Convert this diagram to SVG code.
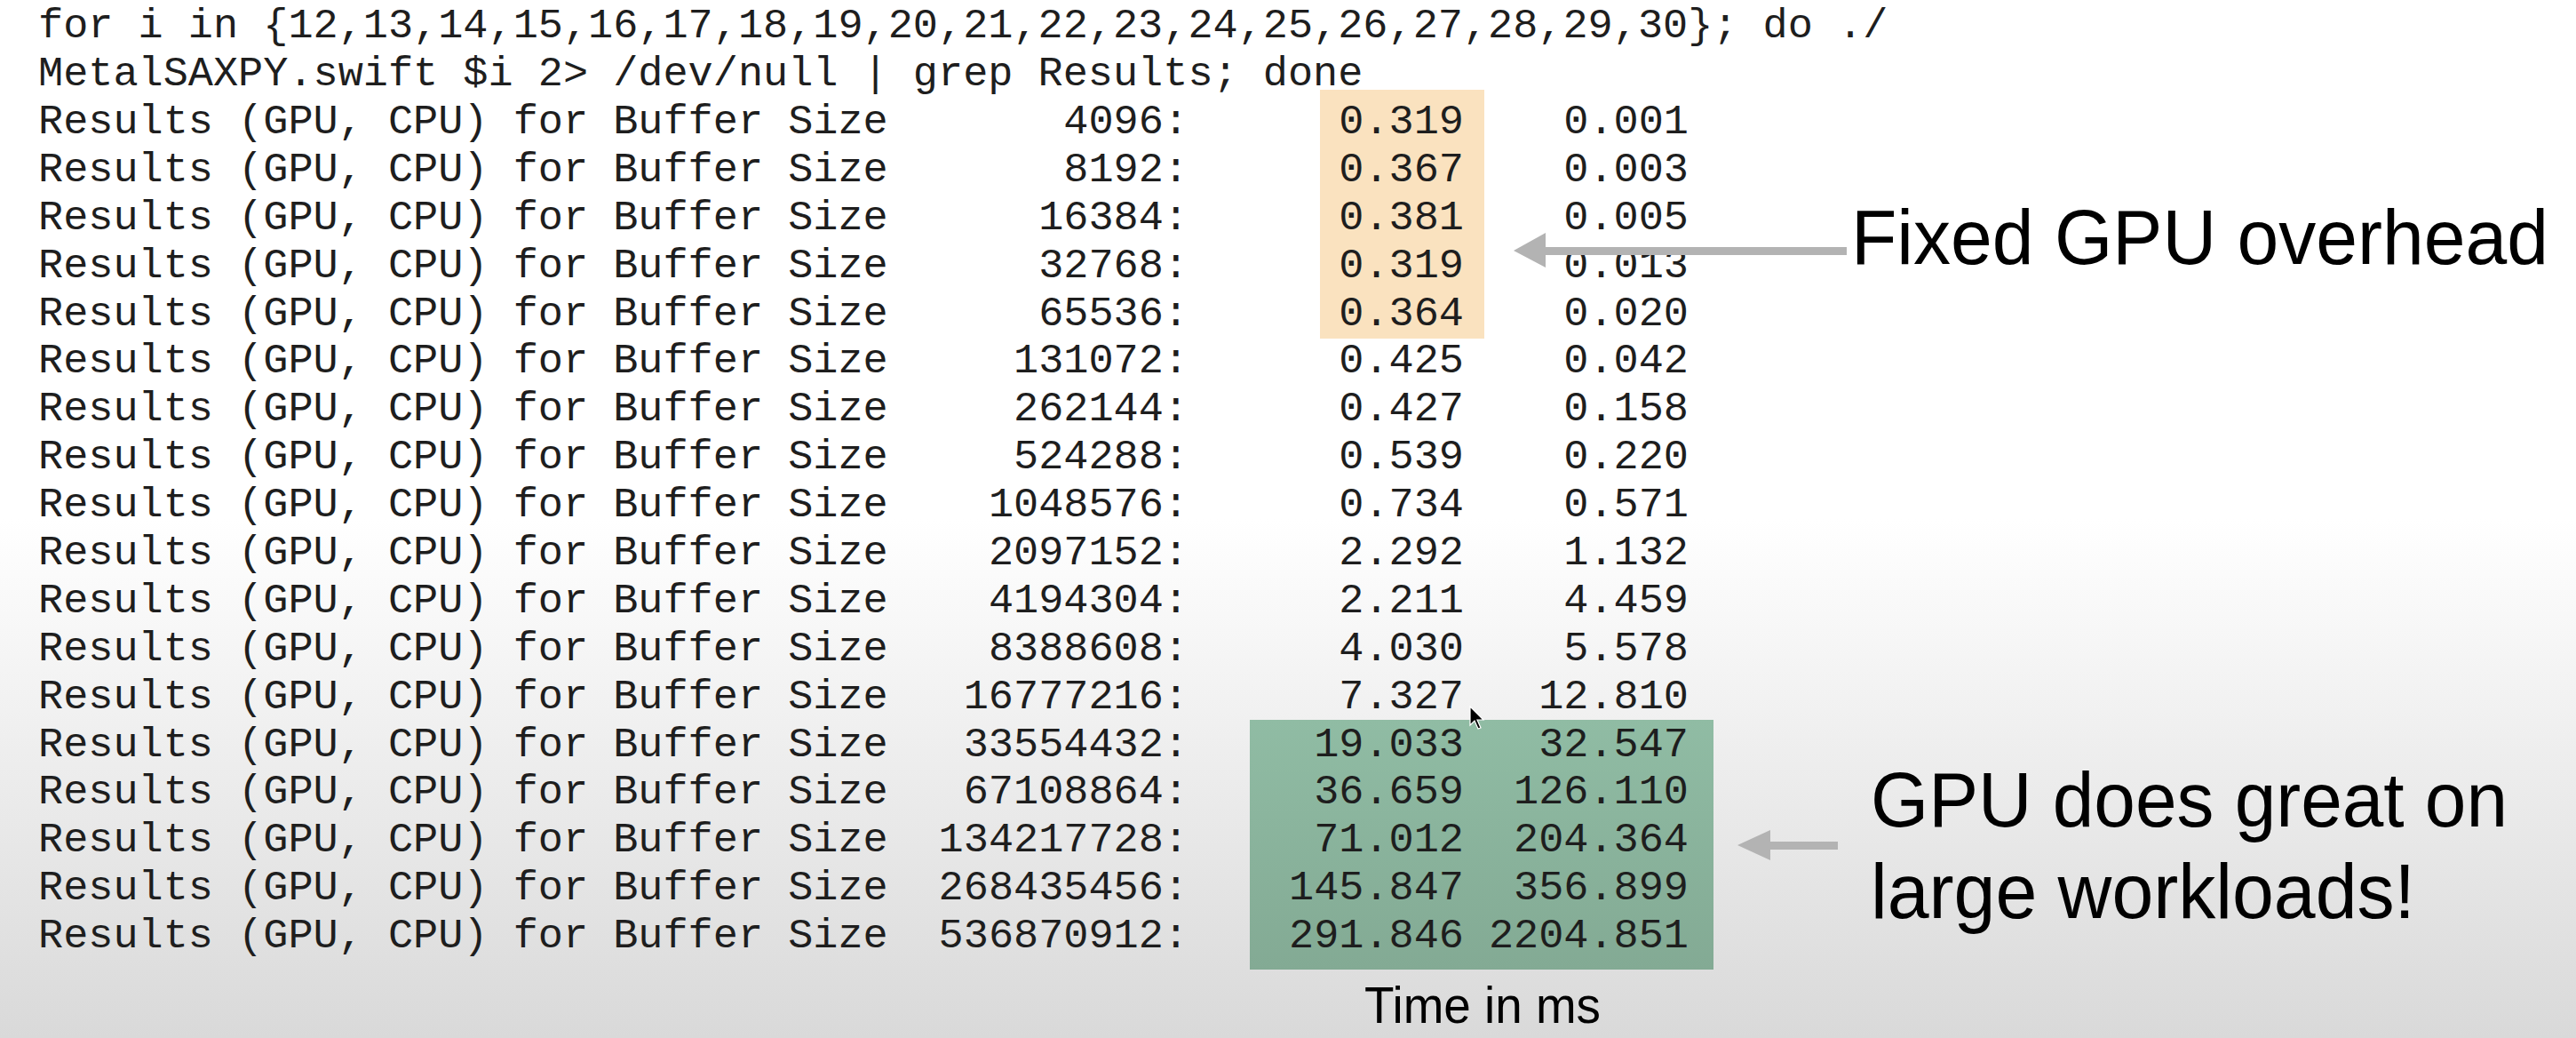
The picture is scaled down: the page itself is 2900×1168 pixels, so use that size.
<svg xmlns="http://www.w3.org/2000/svg" width="2900" height="1168" viewBox="0 0 2900 1168">
<defs>
<linearGradient id="bg" x1="0" y1="0" x2="0" y2="1">
<stop offset="0" stop-color="#ffffff"/>
<stop offset="0.5" stop-color="#ffffff"/>
<stop offset="1" stop-color="#d9d9d9"/>
</linearGradient>
<linearGradient id="green" x1="0" y1="0" x2="0" y2="1">
<stop offset="0" stop-color="#90bca4"/>
<stop offset="1" stop-color="#83aa94"/>
</linearGradient>
<style>
.mono{font-family:"Liberation Mono","DejaVu Sans Mono",monospace;font-size:46.9px;fill:#1e1e1e}
.num{text-anchor:end}
.big{font-family:"Liberation Sans",Arial,sans-serif;font-size:88px;fill:#000}
.cap{font-family:"Liberation Sans",Arial,sans-serif;font-size:57px;fill:#000}
.arrow{fill:#b3b3b3}
</style>
</defs>
<rect x="0" y="0" width="2900" height="1168" fill="url(#bg)"/>

<g id="highlight-fixed">
<rect x="1486" y="101" width="185" height="280" fill="#fae2bf"/>
</g>
<g id="highlight-large">
<rect x="1407" y="810" width="522" height="281" fill="url(#green)"/>
</g>

<g id="command" class="mono" xml:space="preserve">
<text x="43" y="42">for i in {12,13,14,15,16,17,18,19,20,21,22,23,24,25,26,27,28,29,30}; do ./</text>
<text x="43" y="96">MetalSAXPY.swift $i 2&gt; /dev/null | grep Results; done</text>
</g>

<g id="results" class="mono">
<text x="43" y="150">Results (GPU, CPU) for Buffer Size</text><text class="num" x="1338" y="150">4096:</text><text class="num" x="1648" y="150">0.319</text><text class="num" x="1901" y="150">0.001</text>
<text x="43" y="204">Results (GPU, CPU) for Buffer Size</text><text class="num" x="1338" y="204">8192:</text><text class="num" x="1648" y="204">0.367</text><text class="num" x="1901" y="204">0.003</text>
<text x="43" y="258">Results (GPU, CPU) for Buffer Size</text><text class="num" x="1338" y="258">16384:</text><text class="num" x="1648" y="258">0.381</text><text class="num" x="1901" y="258">0.005</text>
<text x="43" y="312">Results (GPU, CPU) for Buffer Size</text><text class="num" x="1338" y="312">32768:</text><text class="num" x="1648" y="312">0.319</text><text class="num" x="1901" y="312">0.013</text>
<text x="43" y="366">Results (GPU, CPU) for Buffer Size</text><text class="num" x="1338" y="366">65536:</text><text class="num" x="1648" y="366">0.364</text><text class="num" x="1901" y="366">0.020</text>
<text x="43" y="419">Results (GPU, CPU) for Buffer Size</text><text class="num" x="1338" y="419">131072:</text><text class="num" x="1648" y="419">0.425</text><text class="num" x="1901" y="419">0.042</text>
<text x="43" y="473">Results (GPU, CPU) for Buffer Size</text><text class="num" x="1338" y="473">262144:</text><text class="num" x="1648" y="473">0.427</text><text class="num" x="1901" y="473">0.158</text>
<text x="43" y="527">Results (GPU, CPU) for Buffer Size</text><text class="num" x="1338" y="527">524288:</text><text class="num" x="1648" y="527">0.539</text><text class="num" x="1901" y="527">0.220</text>
<text x="43" y="581">Results (GPU, CPU) for Buffer Size</text><text class="num" x="1338" y="581">1048576:</text><text class="num" x="1648" y="581">0.734</text><text class="num" x="1901" y="581">0.571</text>
<text x="43" y="635">Results (GPU, CPU) for Buffer Size</text><text class="num" x="1338" y="635">2097152:</text><text class="num" x="1648" y="635">2.292</text><text class="num" x="1901" y="635">1.132</text>
<text x="43" y="689">Results (GPU, CPU) for Buffer Size</text><text class="num" x="1338" y="689">4194304:</text><text class="num" x="1648" y="689">2.211</text><text class="num" x="1901" y="689">4.459</text>
<text x="43" y="743">Results (GPU, CPU) for Buffer Size</text><text class="num" x="1338" y="743">8388608:</text><text class="num" x="1648" y="743">4.030</text><text class="num" x="1901" y="743">5.578</text>
<text x="43" y="797">Results (GPU, CPU) for Buffer Size</text><text class="num" x="1338" y="797">16777216:</text><text class="num" x="1648" y="797">7.327</text><text class="num" x="1901" y="797">12.810</text>
<text x="43" y="851">Results (GPU, CPU) for Buffer Size</text><text class="num" x="1338" y="851">33554432:</text><text class="num" x="1648" y="851">19.033</text><text class="num" x="1901" y="851">32.547</text>
<text x="43" y="904">Results (GPU, CPU) for Buffer Size</text><text class="num" x="1338" y="904">67108864:</text><text class="num" x="1648" y="904">36.659</text><text class="num" x="1901" y="904">126.110</text>
<text x="43" y="958">Results (GPU, CPU) for Buffer Size</text><text class="num" x="1338" y="958">134217728:</text><text class="num" x="1648" y="958">71.012</text><text class="num" x="1901" y="958">204.364</text>
<text x="43" y="1012">Results (GPU, CPU) for Buffer Size</text><text class="num" x="1338" y="1012">268435456:</text><text class="num" x="1648" y="1012">145.847</text><text class="num" x="1901" y="1012">356.899</text>
<text x="43" y="1066">Results (GPU, CPU) for Buffer Size</text><text class="num" x="1338" y="1066">536870912:</text><text class="num" x="1648" y="1066">291.846</text><text class="num" x="1901" y="1066">2204.851</text>
</g>

<g id="label-fixed">
<text class="big" x="2084" y="297" textLength="785" lengthAdjust="spacingAndGlyphs">Fixed GPU overhead</text>
</g>
<g id="label-large">
<text class="big" x="2106" y="930" textLength="717" lengthAdjust="spacingAndGlyphs">GPU does great on</text>
<text class="big" x="2106" y="1033" textLength="613" lengthAdjust="spacingAndGlyphs">large workloads!</text>
</g>
<g id="caption">
<text class="cap" x="1536" y="1151" textLength="266" lengthAdjust="spacingAndGlyphs">Time in ms</text>
</g>

<g id="connectors">
<polygon class="arrow" points="2079,278 1740,278 1740,262 1704,282 1740,301 1740,287 2079,287"/>
<polygon class="arrow" points="2069,947 1993,947 1993,934 1956,951 1993,968 1993,956 2069,956"/>
</g>

<g id="cursor">
<polygon points="1655,795 1655,816 1660,811 1664,820 1667,819 1663,810 1670,810" fill="#000" stroke="#fff" stroke-width="1.2"/>
</g>
</svg>
